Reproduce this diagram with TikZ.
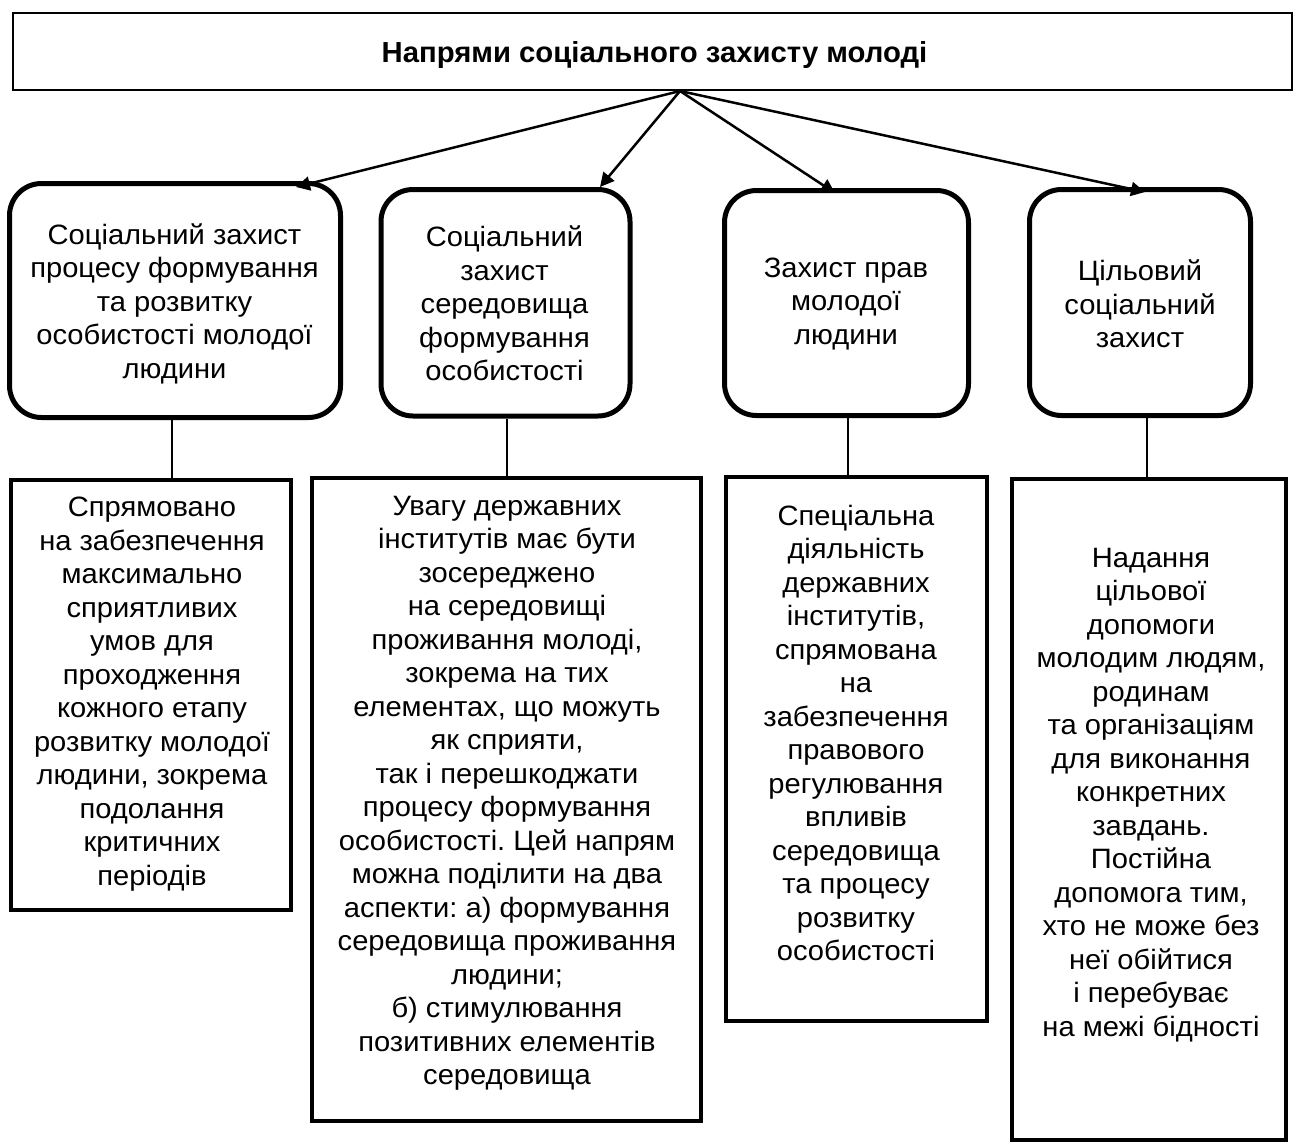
\documentclass[tikz,border=0pt]{standalone}
\usepackage{fontspec}
\setmainfont{Liberation Sans}
\newfontfamily\bodyfont[FakeStretch=1.04]{Liberation Sans}
\newfontfamily\titlefont[FakeStretch=1.01]{Liberation Sans}
\newcommand\mybodyset{\bodyfont\fontsize{28}{33.5}\selectfont\frenchspacing\setlength{\lineskiplimit}{-50pt}\relax}
\usetikzlibrary{arrows.meta}
\begin{document}
\begin{tikzpicture}[x=1pt,y=-1pt,
  topbox/.style={draw,line width=2pt,inner sep=0pt},
  rbox/.style={draw,line width=5pt,rounded corners=32pt,inner sep=0pt},
  rectbox/.style={draw,line width=4.5pt,inner sep=0pt},
  arr/.style={line width=2.5pt,-{Triangle[length=14pt,width=14pt]}},
  link/.style={line width=1.5pt},
  txt/.style={align=center,inner sep=0pt,font=\mybodyset},
  ttl/.style={inner sep=0pt,font=\titlefont\fontsize{29}{33}\selectfont\bfseries}]
\useasboundingbox (0,0) rectangle (1294,1144);
% top box
\node[topbox,minimum width=1279.5pt,minimum height=77pt] (top) at (652.25,51.5) {};
\node[ttl] (title) at (654.5,54.5) {Напрями соціального захисту молоді};
% rounded boxes
\node[rbox,minimum width=331pt,minimum height=234pt] (b1) at (175,300.5) {};
\node[rbox,minimum width=249pt,minimum height=226.5pt] (b2) at (505.5,302.75) {};
\node[rbox,minimum width=244pt,minimum height=225pt] (b3) at (846.5,303) {};
\node[rbox,minimum width=221pt,minimum height=226pt] (b4) at (1140,302.5) {};
\node[txt] (t1) at (174.5,303.5) {Соціальний захист\\процесу формування\\та розвитку\\особистості молодої\\людини};
\node[txt] (t2) at (504.5,303.5) {Соціальний\\захист\\середовища\\формування\\особистості};
\node[txt] (t3) at (846,304) {Захист прав\\молодої\\людини};
\node[txt] (t4) at (1140,304) {Цільовий\\соціальний\\захист};
% rectangles
\node[rectbox,minimum width=280pt,minimum height=430pt] (r1) at (151,695) {};
\node[rectbox,minimum width=389pt,minimum height=643pt] (r2) at (506.5,799.5) {};
\node[rectbox,minimum width=261pt,minimum height=544pt] (r3) at (856.5,749) {};
\node[rectbox,minimum width=274pt,minimum height=661pt] (r4) at (1149,809.5) {};
\node[txt] (s1) at (152,694) {Спрямовано\\на забезпечення\\максимально\\сприятливих\\умов для\\проходження\\кожного етапу\\розвитку молодої\\людини, зокрема\\подолання\\критичних\\періодів};
\node[txt] (s2) at (507,793.5) {Увагу державних\\інститутів має бути\\зосереджено\\на середовищі\\проживання молоді,\\зокрема на тих\\елементах, що можуть\\як сприяти,\\так і перешкоджати\\процесу формування\\особистості. Цей напрям\\можна поділити на два\\аспекти: а) формування\\середовища проживання\\людини;\\б) стимулювання\\позитивних елементів\\середовища};
\node[txt] (s3) at (856,733) {Спеціальна\\діяльність\\державних\\інститутів,\\спрямована\\на\\забезпечення\\правового\\регулювання\\впливів\\середовища\\та процесу\\розвитку\\особистості};
\node[txt] (s4) at (1151,795) {Надання\\цільової\\допомоги\\молодим людям,\\родинам\\та організаціям\\для виконання\\конкретних\\завдань.\\Постійна\\допомога тим,\\хто не може без\\неї обійтися\\і перебуває\\на межі бідності};
% arrows
\coordinate (hub) at ([xshift=27.75pt]top.south);
\coordinate (a1) at ([xshift=121pt,yshift=-6pt]b1.north);
\coordinate (a2) at ([xshift=94.5pt,yshift=0pt]b2.north);
\coordinate (a3) at ([xshift=-11.5pt,yshift=-5pt]b3.north);
\coordinate (a4) at ([xshift=5pt,yshift=-5pt]b4.north);
\draw[arr] (hub) -- (a1);
\draw[arr] (hub) -- (a2);
\draw[arr] (hub) -- (a3);
\draw[arr] (hub) -- (a4);
% links
\draw[link] ([xshift=-3pt]b1.south) -- ([xshift=-3pt]b1.south |- r1.north);
\draw[link] ([xshift=1.5pt]b2.south) -- ([xshift=1.5pt]b2.south |- r2.north);
\draw[link] ([xshift=1.5pt]b3.south) -- ([xshift=1.5pt]b3.south |- r3.north);
\draw[link] ([xshift=7pt]b4.south) -- ([xshift=7pt]b4.south |- r4.north);
\end{tikzpicture}
\end{document}
